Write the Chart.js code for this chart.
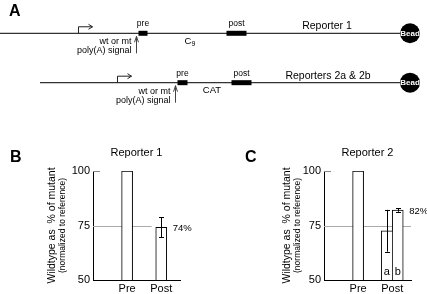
<!DOCTYPE html>
<html>
<head>
<meta charset="utf-8">
<script src="https://cdn.jsdelivr.net/npm/chart.js@4.4.0/dist/chart.umd.min.js"></script>
<style>
  html, body { margin: 0; padding: 0; background: #fff; }
  body { width: 427px; height: 294px; position: relative; overflow: hidden; }
  canvas { position: absolute; }
</style>
</head>
<body>
<canvas id="diagram" width="427" height="130" style="left:0;top:0"></canvas>
<canvas id="chartB" width="213" height="164" style="left:0;top:130px"></canvas>
<canvas id="chartC" width="214" height="164" style="left:213px;top:130px"></canvas>
<script>
// ---- panel A: construct map (diagram units along the x axis, one track per reporter)
const tracks = [1, 2];
const constructNames = ['Reporter 1', 'Reporters 2a & 2b'];
const constructStart = [0, 40];
const beadPos = [410, 410];
const promoterPos = [78, 117.5];
const polyAPos = [136, 175];
const preStart = [138.5, 177.5];
const preEnd = [147.5, 187.5];
const postStart = [226.5, 231.5];
const postEnd = [246.5, 251.5];
const insertNames = ['C', 'CAT'];
const insertSub = ['9', ''];
const insertPos = [190, 212];
const namePos = [327, 328];

// ---- panels B and C
const categories = ['Pre', 'Post'];
const yTicks = [50, 75, 100];
const refValue = 75;

const rep1Values = [100, 74.2];
const rep1Err = [null, 4.6];
const rep1Pct = [null, '74%'];

const rep2aValues = [100, 72.6];
const rep2aErr = [null, 9.6];
const rep2bValues = [null, 82.1];
const rep2bErr = [null, 0.8];
const rep2bPct = [null, '82%'];

Chart.defaults.font.family = '"Liberation Sans", Arial, sans-serif';
Chart.defaults.color = '#000';

const FONT = '"Liberation Sans", Arial, sans-serif';

const diagramDecor = {
  id: 'diagramDecor',
  afterDatasetsDraw(chart) {
    const { ctx, scales: { x, y } } = chart;
    ctx.save();
    tracks.forEach((t, i) => {
      const ly = y.getPixelForValue(t);

      // promoter bent arrow
      const px = Math.round(x.getPixelForValue(promoterPos[i])) + 0.5;
      const top = ly - 6.5;
      ctx.strokeStyle = '#222';
      ctx.lineWidth = 1;
      ctx.beginPath();
      ctx.moveTo(px, ly);
      ctx.lineTo(px, top);
      ctx.lineTo(px + 14, top);
      ctx.moveTo(px + 10, top - 2.5);
      ctx.lineTo(px + 14, top);
      ctx.lineTo(px + 10, top + 2.5);
      ctx.stroke();

      // poly(A) arrow
      const ax = Math.round(x.getPixelForValue(polyAPos[i])) + 0.5;
      ctx.strokeStyle = '#444';
      ctx.beginPath();
      ctx.moveTo(ax, ly + 20);
      ctx.lineTo(ax, ly + 3);
      ctx.moveTo(ax - 2, ly + 9);
      ctx.lineTo(ax, ly + 3);
      ctx.lineTo(ax + 2, ly + 9);
      ctx.stroke();

      ctx.fillStyle = '#000';
      ctx.textBaseline = 'middle';
      ctx.font = '9px ' + FONT;
      ctx.textAlign = 'right';
      ctx.fillText('wt or mt', ax - 5, ly + 8.5);
      ctx.fillText('poly(A) signal', ax - 5, ly + 17.5);

      // box labels
      ctx.textAlign = 'center';
      ctx.font = '8.5px ' + FONT;
      ctx.fillText('pre', x.getPixelForValue((preStart[i] + preEnd[i]) / 2), ly - 9.5);
      ctx.fillText('post', x.getPixelForValue((postStart[i] + postEnd[i]) / 2), ly - 9.5);

      // insert label
      ctx.font = '9.5px ' + FONT;
      const ix = x.getPixelForValue(insertPos[i]);
      if (insertSub[i]) {
        ctx.textAlign = 'left';
        const w = ctx.measureText(insertNames[i]).width;
        ctx.fillText(insertNames[i], ix - w / 2 - 2, ly + 8);
        ctx.font = '7px ' + FONT;
        ctx.fillText(insertSub[i], ix + w / 2 - 2, ly + 10.5);
      } else {
        ctx.fillText(insertNames[i], ix, ly + 7.5);
      }

      // construct name
      ctx.textAlign = 'center';
      ctx.font = '10.5px ' + FONT;
      ctx.fillText(constructNames[i], x.getPixelForValue(namePos[i]), ly - 7);

      // bead text
      ctx.fillStyle = '#fff';
      ctx.font = 'bold 8px ' + FONT;
      ctx.fillText('Bead', x.getPixelForValue(beadPos[i]), ly + 0.5);
    });

    ctx.fillStyle = '#000';
    ctx.textAlign = 'left';
    ctx.font = 'bold 16px ' + FONT;
    ctx.fillText('A', 9, 11.5);
    ctx.restore();
  }
};

const seg = (a, b, t) => [{ x: a, y: t }, { x: b, y: t }];
const diagramSets = [
  {
    data: beadPos.map((b, i) => ({ x: b, y: tracks[i] })),
    pointRadius: 10, pointBackgroundColor: '#000', pointBorderWidth: 0, showLine: false
  }
];
tracks.forEach((t, i) => {
  diagramSets.push({ data: seg(preStart[i], preEnd[i], t), borderColor: '#000', borderWidth: 5, borderCapStyle: 'butt' });
  diagramSets.push({ data: seg(postStart[i], postEnd[i], t), borderColor: '#000', borderWidth: 5, borderCapStyle: 'butt' });
  diagramSets.push({ data: seg(constructStart[i], beadPos[i], t), borderColor: '#333', borderWidth: 1.2 });
});
diagramSets.forEach(d => { d.pointRadius = d.pointRadius || 0; if (d.showLine === undefined) d.showLine = true; });

new Chart(document.getElementById('diagram'), {
  type: 'scatter',
  data: { datasets: diagramSets },
  options: {
    responsive: false,
    animation: false,
    devicePixelRatio: 1,
    layout: { padding: 0, autoPadding: false },
    plugins: { legend: { display: false }, tooltip: { enabled: false } },
    scales: {
      x: { type: 'linear', display: false, min: 0, max: 427 },
      y: { type: 'linear', display: false, reverse: true, min: 0.326, max: 2.958 }
    }
  },
  plugins: [diagramDecor]
});

const barDecor = {
  id: 'barDecor',
  beforeDatasetsDraw(chart, args, opts) {
    const { ctx, chartArea, scales: { x, y } } = chart;
    ctx.save();
    const yr = Math.round(y.getPixelForValue(refValue)) + 0.5;
    ctx.strokeStyle = '#aaa';
    ctx.lineWidth = 1;
    ctx.beginPath();
    ctx.moveTo(chartArea.left, yr);
    ctx.lineTo(x.getPixelForValue(opts.refEnd), yr);
    ctx.stroke();
    yTicks.forEach(v => {
      if (v === refValue || v === y.min) return;
      const ty = Math.round(y.getPixelForValue(v)) + 0.5;
      ctx.strokeStyle = '#888';
      ctx.beginPath();
      ctx.moveTo(chartArea.left, ty);
      ctx.lineTo(chartArea.left + 7, ty);
      ctx.stroke();
    });
    ctx.restore();
  },
  afterDatasetsDraw(chart) {
    const { ctx, chartArea, scales: { y } } = chart;
    ctx.save();
    chart.data.datasets.forEach((ds, di) => {
      const meta = chart.getDatasetMeta(di);
      meta.data.forEach((bar, i) => {
        const v = ds.data[i].y;
        if (v === null) return;
        const err = ds.errors && ds.errors[i];
        if (err) {
          const bx = Math.round(bar.x) + 0.5;
          const hi = y.getPixelForValue(v + err);
          const lo = y.getPixelForValue(v - err);
          ctx.strokeStyle = '#000';
          ctx.lineWidth = 1;
          ctx.beginPath();
          ctx.moveTo(bx, hi); ctx.lineTo(bx, lo);
          ctx.moveTo(bx - 2.5, Math.round(hi) + 0.5); ctx.lineTo(bx + 2.5, Math.round(hi) + 0.5);
          ctx.moveTo(bx - 2.5, Math.round(lo) + 0.5); ctx.lineTo(bx + 2.5, Math.round(lo) + 0.5);
          ctx.stroke();
        }
        ctx.fillStyle = '#000';
        ctx.textBaseline = 'middle';
        const pct = ds.pct && ds.pct[i];
        if (pct) {
          ctx.textAlign = 'left';
          ctx.font = '9.5px ' + FONT;
          ctx.fillText(pct, bar.x + 11.5, y.getPixelForValue(v) + 1);
        }
        const sub = ds.sub && ds.sub[i];
        if (sub) {
          ctx.textAlign = 'center';
          ctx.font = '11px ' + FONT;
          ctx.fillText(sub, bar.x, chartArea.bottom - 8);
        }
      });
    });
    ctx.restore();
  },
  afterDraw(chart, args, opts) {
    const { ctx, chartArea } = chart;
    ctx.save();
    ctx.fillStyle = '#000';
    ctx.textBaseline = 'middle';
    ctx.textAlign = 'left';
    ctx.font = 'bold 16px ' + FONT;
    ctx.fillText(opts.letter, opts.letterX, 28);
    ctx.textAlign = 'center';
    ctx.font = '11px ' + FONT;
    ctx.fillText(opts.title, (chartArea.left + chartArea.right) / 2, 23);
    const cy = (chartArea.top + chartArea.bottom) / 2;
    ctx.translate(chartArea.left + opts.yTitleOffset, cy);
    ctx.rotate(-Math.PI / 2);
    ctx.font = '10.5px ' + FONT;
    ctx.fillText('Wildtype as  % of mutant', 0, 0);
    ctx.font = '8.5px ' + FONT;
    ctx.fillText('(normalized to reference)', 0, 11);
    ctx.restore();
  }
};

function toPoints(values) {
  return values.map((v, i) => ({ x: i + 1, y: v }));
}

function barChart(id, datasets, deco, axisWidth, padRight) {
  datasets.forEach(d => Object.assign(d, {
    backgroundColor: '#fff', borderColor: '#000', borderWidth: 1,
    barThickness: 11, skipNull: true
  }));
  return new Chart(document.getElementById(id), {
    type: 'bar',
    data: { datasets },
    options: {
      responsive: false,
      animation: false,
      devicePixelRatio: 1,
      layout: { padding: { left: 0, top: 41, right: padRight, bottom: 0 } },
      plugins: { legend: { display: false }, tooltip: { enabled: false }, barDecor: deco },
      scales: {
        x: {
          type: 'linear', min: 0, max: 2.55, offset: false,
          grid: { display: false, drawTicks: false },
          border: { display: true, color: '#000', width: 1 },
          afterBuildTicks: s => { s.ticks = categories.map((c, i) => ({ value: i + 1 })); },
          afterFit: s => { s.height = 14; },
          ticks: { color: '#000', font: { size: 11 }, padding: 2, maxRotation: 0, autoSkip: false,
                   callback: v => categories[v - 1] }
        },
        y: {
          min: 50, max: 100,
          grid: { display: false, drawTicks: false },
          border: { display: true, color: '#000', width: 1 },
          afterBuildTicks: s => { s.ticks = yTicks.map(v => ({ value: v })); },
          afterFit: s => { s.width = axisWidth; },
          ticks: { color: '#000', font: { size: 11 }, padding: 3 }
        }
      }
    },
    plugins: [barDecor]
  });
}

barChart('chartB', [
  { data: toPoints(rep1Values), errors: rep1Err, pct: rep1Pct }
], { letter: 'B', letterX: 10, title: 'Reporter 1', yTitleOffset: -41, refEnd: 1.72 }, 93, 33);

barChart('chartC', [
  { data: toPoints(rep2aValues), errors: rep2aErr, sub: [null, 'a'],
    borderSkipped: c => (c.dataIndex === 1 ? 'right' : 'start') },
  { data: toPoints(rep2bValues), errors: rep2bErr, pct: rep2bPct, sub: [null, 'b'] }
], { letter: 'C', letterX: 32, title: 'Reporter 2', yTitleOffset: -37, refEnd: 2.55 }, 111, 16);
</script>
</body>
</html>
